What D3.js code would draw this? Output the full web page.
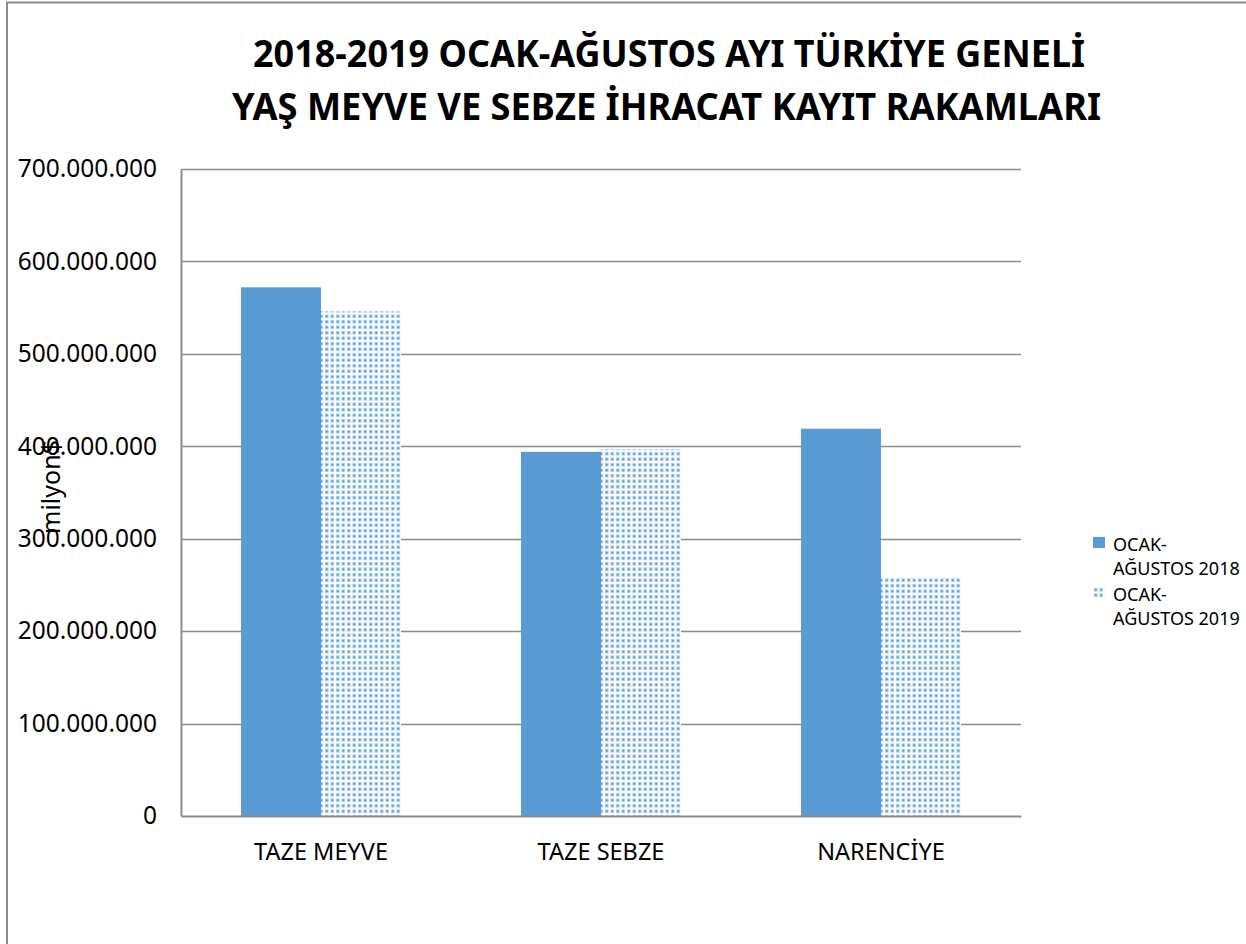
<!DOCTYPE html>
<html>
<head>
<meta charset="utf-8">
<script src="https://cdn.jsdelivr.net/npm/d3@7"></script>
<style>
  body { margin: 0; background: #fff; }
  svg { display: block; font-family: "Noto Sans", "Open Sans", sans-serif; }
</style>
</head>
<body>
<svg id="chart" width="1246" height="944"></svg>
<script>
// chart data
var categories = ["TAZE MEYVE", "TAZE SEBZE", "NARENCİYE"];
var seriesNames = ["OCAK-AĞUSTOS 2018", "OCAK-AĞUSTOS 2019"];
var values2018 = [572000000, 394000000, 419000000];
var values2019 = [546000000, 397000000, 258000000];
var yTicks = [0, 100000000, 200000000, 300000000, 400000000, 500000000, 600000000, 700000000];
var titleLines = ["2018-2019 OCAK-AĞUSTOS AYI TÜRKİYE GENELİ", "YAŞ MEYVE VE SEBZE İHRACAT KAYIT RAKAMLARI"];
var yLabel = "milyon$";

var svg = d3.select("#chart");
var m = {left: 181, right: 1021, top: 169, bottom: 816};

// dotted fill for the 2019 series
var defs = svg.append("defs");
var pat = defs.append("pattern").attr("id", "dots")
  .attr("patternUnits", "userSpaceOnUse").attr("width", 5.5).attr("height", 5.5);
pat.append("rect").attr("width", 5.5).attr("height", 5.5).attr("fill", "#fff");
pat.append("rect").attr("x", 0.8).attr("y", 0.8).attr("width", 3.9).attr("height", 3.9).attr("fill", "#bcd6f0");
pat.append("rect").attr("x", 1.75).attr("y", 1.75).attr("width", 2).attr("height", 2).attr("fill", "#5b9bd5");

// outer frame (runs off the bottom/right of the picture)
svg.append("rect").attr("x", 7).attr("y", 2.5).attr("width", 1300).attr("height", 1000)
  .attr("fill", "none").attr("stroke", "#8c8c8c").attr("stroke-width", 2);

// title
svg.selectAll("text.title").data(titleLines).enter().append("text")
  .attr("class", "title")
  .attr("x", function(d, i){ return i === 0 ? 669 : 666.5; })
  .attr("y", function(d, i){ return 67 + i * 53; })
  .attr("text-anchor", "middle")
  .attr("font-size", 38).attr("font-weight", "bold").attr("fill", "#000")
  .attr("textLength", function(d, i){ return i === 0 ? 832 : 869; })
  .attr("lengthAdjust", "spacingAndGlyphs")
  .text(function(d){ return d; });

var x = d3.scaleBand().domain(categories).range([m.left, m.right]);
var xs = d3.scaleBand().domain(seriesNames).range([0, x.bandwidth()]).paddingOuter(0.75);
var y = d3.scaleLinear().domain([0, 700000000]).range([m.bottom, m.top]);
var fmt = function(v){ return d3.format(",")(v).replace(/,/g, "."); };

// gridlines
svg.append("g").selectAll("line").data(yTicks.slice(1)).enter().append("line")
  .attr("x1", m.left).attr("x2", m.right)
  .attr("y1", function(d){ return Math.round(y(d)) + 0.5; })
  .attr("y2", function(d){ return Math.round(y(d)) + 0.5; })
  .attr("stroke", "#8c8c8c").attr("stroke-width", 1.6);

// bars
var rows = categories.map(function(c, i){
  return [{cat: c, s: seriesNames[0], v: values2018[i]}, {cat: c, s: seriesNames[1], v: values2019[i]}];
});
svg.append("g").selectAll("g").data(rows).enter().append("g")
  .attr("transform", function(d){ return "translate(" + x(d[0].cat) + ",0)"; })
  .selectAll("rect").data(function(d){ return d; }).enter().append("rect")
  .attr("x", function(d){ return xs(d.s); })
  .attr("width", xs.bandwidth())
  .attr("y", function(d){ return y(d.v); })
  .attr("height", function(d){ return y(0) - y(d.v); })
  .attr("fill", function(d){ return d.s === seriesNames[0] ? "#5b9bd5" : "url(#dots)"; });

// axes
var yAxis = svg.append("g").attr("transform", "translate(" + m.left + ",0)")
  .call(d3.axisLeft(y).tickValues(yTicks).tickFormat(fmt).tickSize(0).tickPadding(24));
yAxis.select(".domain").attr("stroke", "#8c8c8c").attr("stroke-width", 2);
yAxis.selectAll("text").attr("font-size", 24.5).attr("fill", "#000")
  .attr("font-family", "'Noto Sans', sans-serif");

var xAxis = svg.append("g").attr("transform", "translate(0," + m.bottom + ")")
  .call(d3.axisBottom(x).tickSize(0).tickPadding(27));
xAxis.select(".domain").attr("stroke", "#8c8c8c").attr("stroke-width", 2);
xAxis.selectAll("text").attr("font-size", 23.5).attr("fill", "#000")
  .attr("font-family", "'Noto Sans', sans-serif");

// y label
svg.append("text")
  .attr("transform", "translate(60,487) rotate(-90)")
  .attr("text-anchor", "middle").attr("font-size", 25).attr("fill", "#000")
  .text(yLabel);

// legend
var legend = svg.append("g").selectAll("g").data(seriesNames).enter().append("g")
  .attr("transform", function(d, i){ return "translate(1093," + (537 + i * 50) + ")"; });
legend.append("rect").attr("width", 12).attr("height", 11)
  .attr("fill", function(d, i){ return i === 0 ? "#5b9bd5" : "url(#dots)"; });
legend.each(function(d){
  var parts = d.split("-");
  var t = d3.select(this).append("text").attr("x", 20).attr("y", 14)
    .attr("font-size", 18).attr("fill", "#000");
  t.append("tspan").attr("x", 20).attr("dy", 0).text(parts[0] + "-");
  t.append("tspan").attr("x", 20).attr("dy", 24).text(parts[1]);
});
</script>
</body>
</html>
